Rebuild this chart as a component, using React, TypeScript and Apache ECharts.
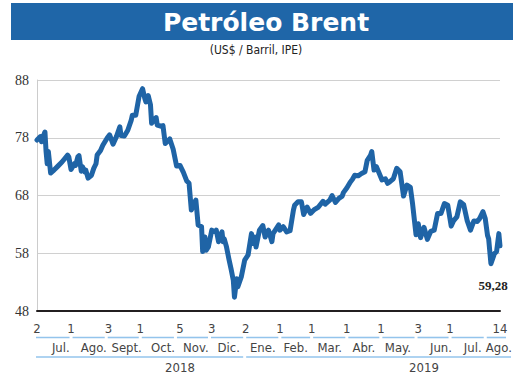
import React, { useEffect, useRef } from "react";
import * as echarts from "echarts";

const priceDates = [
  "2018-07-02","2018-07-05","2018-07-06","2018-07-08","2018-07-09","2018-07-10","2018-07-11","2018-07-12","2018-07-14","2018-07-17","2018-07-20","2018-07-24","2018-07-29","2018-07-30",
  "2018-08-01","2018-08-04","2018-08-05","2018-08-07","2018-08-08","2018-08-10","2018-08-11","2018-08-13","2018-08-14","2018-08-16","2018-08-19","2018-08-21","2018-08-23","2018-08-24","2018-08-27","2018-08-29",
  "2018-09-02","2018-09-04","2018-09-07","2018-09-10","2018-09-13","2018-09-14","2018-09-17","2018-09-20","2018-09-23","2018-09-24","2018-09-27","2018-09-30",
  "2018-10-03","2018-10-05","2018-10-06","2018-10-08","2018-10-10","2018-10-11","2018-10-15","2018-10-16","2018-10-19","2018-10-21","2018-10-23","2018-10-27","2018-10-30",
  "2018-11-02","2018-11-05","2018-11-08","2018-11-11","2018-11-13","2018-11-15","2018-11-18","2018-11-19","2018-11-21","2018-11-24","2018-11-25","2018-11-27","2018-11-28","2018-11-30",
  "2018-12-03","2018-12-06","2018-12-07","2018-12-09","2018-12-12","2018-12-13","2018-12-14","2018-12-16","2018-12-18","2018-12-20","2018-12-22","2018-12-23","2018-12-25","2018-12-26","2018-12-29",
  "2019-01-01","2019-01-04","2019-01-07","2019-01-08","2019-01-10","2019-01-11","2019-01-14","2019-01-17","2019-01-19","2019-01-22","2019-01-25","2019-01-26","2019-01-31",
  "2019-02-01","2019-02-04","2019-02-07","2019-02-10","2019-02-13","2019-02-14","2019-02-17","2019-02-20","2019-02-22","2019-02-25","2019-02-28",
  "2019-03-03","2019-03-07","2019-03-11","2019-03-13","2019-03-17","2019-03-19","2019-03-22","2019-03-25","2019-03-28","2019-03-29",
  "2019-04-01","2019-04-04","2019-04-06","2019-04-08","2019-04-11","2019-04-14","2019-04-17","2019-04-19","2019-04-22","2019-04-23","2019-04-25","2019-04-27","2019-04-29",
  "2019-05-02","2019-05-05","2019-05-07","2019-05-09","2019-05-12","2019-05-15","2019-05-18","2019-05-21","2019-05-24","2019-05-27","2019-05-29",
  "2019-06-01","2019-06-03","2019-06-05","2019-06-08","2019-06-11","2019-06-14","2019-06-17","2019-06-20","2019-06-23","2019-06-26","2019-06-29",
  "2019-07-02","2019-07-04","2019-07-07","2019-07-10","2019-07-13","2019-07-16","2019-07-19","2019-07-22","2019-07-25","2019-07-27","2019-07-30",
  "2019-08-01","2019-08-03","2019-08-04","2019-08-06","2019-08-09","2019-08-11","2019-08-13","2019-08-14",
];

const priceValues = [
  77.6, 78.2, 77.3, 78.5, 79.0, 75.6, 73.5, 75.6, 71.9, 72.4, 73.0, 73.8, 75.0, 74.7,
  72.5, 73.5, 73.2, 74.7, 74.9, 72.2, 73.0, 72.1, 72.4, 71.0, 71.5, 72.7, 73.5, 75.0, 75.8, 76.7,
  78.0, 78.5, 76.9, 78.2, 79.9, 78.4, 78.3, 79.3, 81.0, 81.9, 81.9, 85.2,
  86.5, 84.8, 84.2, 85.3, 83.7, 80.5, 81.5, 80.2, 80.0, 80.1, 77.0, 77.8, 76.0,
  73.1, 73.2, 72.0, 70.5, 70.1, 65.5, 66.9, 67.2, 62.9, 62.6, 58.3, 60.8, 58.5, 59.1,
  62.0, 61.7, 62.0, 60.0, 61.7, 60.0, 60.5, 59.1, 57.1, 55.3, 53.3, 50.4, 53.6, 52.2, 53.9,
  56.8, 57.7, 61.4, 59.7, 60.8, 59.1, 62.0, 62.8, 60.8, 62.0, 60.0, 61.4, 62.9,
  62.0, 62.6, 61.7, 61.9, 65.5, 66.3, 66.9, 66.9, 64.7, 66.0, 64.9,
  65.5, 66.0, 67.0, 66.5, 67.2, 68.0, 66.8, 67.5, 67.9, 68.5,
  69.3, 70.3, 70.8, 71.5, 71.4, 71.8, 72.1, 74.1, 75.0, 75.6, 72.4, 73.0, 72.1,
  70.7, 70.9, 70.1, 70.4, 70.9, 72.7, 72.1, 67.9, 69.8, 69.4, 66.5,
  61.2, 63.1, 60.7, 62.5, 60.4, 61.8, 62.0, 64.9, 64.9, 66.6, 66.3,
  62.7, 63.6, 64.3, 66.9, 66.4, 63.7, 62.0, 63.6, 63.5, 64.0, 65.2,
  64.0, 61.1, 60.5, 56.2, 57.9, 58.3, 61.4, 59.28,
];

const yTicks = [48, 58, 68, 78, 88];

const tickDates = [
  "2018-07-02","2018-08-01","2018-09-03","2018-10-01","2018-11-05","2018-12-03",
  "2019-01-02","2019-02-01","2019-03-01","2019-04-01","2019-05-01","2019-06-03","2019-07-01","2019-08-14",
];
const tickLabels = ["2","1","3","1","5","3","2","1","1","1","1","3","1","14"];

const monthLabels = ["Jul.","Ago.","Sept.","Oct.","Nov.","Dic.","Ene.","Feb.","Mar.","Abr.","May.","Jun.","Jul.","Ago."];
const monthLabelDates = [
  "2018-07-23","2018-08-21","2018-09-19","2018-10-21","2018-11-19","2018-12-18",
  "2019-01-17","2019-02-15","2019-03-17","2019-04-16","2019-05-16","2019-06-23","2019-07-21","2019-08-13",
];
const monthBounds = [
  "2018-07-02","2018-08-01","2018-09-01","2018-10-01","2018-11-01","2018-12-01","2019-01-01",
  "2019-02-01","2019-03-01","2019-04-01","2019-05-01","2019-06-01","2019-07-01","2019-08-01","2019-08-14",
];

const yearLabels = ["2018", "2019"];
const yearLabelDates = ["2018-11-05", "2019-06-08"];
const yearBounds = ["2018-07-02", "2019-01-01", "2019-08-14"];

const TITLE = "Petróleo Brent";
const SUBTITLE = "(US$ / Barril, IPE)";

const ts = (s: string) => {
  const [y, m, d] = s.split("-").map(Number);
  return Date.UTC(y, m - 1, d);
};

const SERIF = "'Liberation Serif', 'DejaVu Serif', serif";
const NARROW = "'Liberation Sans Narrow', 'DejaVu Sans Condensed', Roboto, sans-serif";
const BLUE = "#1f64a6";
const LIGHT = "#93c4ec";

export default function App() {
  const ref = useRef<HTMLDivElement>(null);

  useEffect(() => {
    if (!ref.current) return;
    const chart = echarts.init(ref.current, null, { renderer: "svg" });

    const tickMap = new Map<number, string>();
    tickDates.forEach((d, i) => tickMap.set(ts(d), tickLabels[i]));
    const monthMap = new Map<number, string>();
    monthLabelDates.forEach((d, i) => monthMap.set(ts(d), monthLabels[i]));
    const yearMap = new Map<number, string>();
    yearLabelDates.forEach((d, i) => yearMap.set(ts(d), yearLabels[i]));

    const xMin = ts(priceDates[0]);
    const xMax = ts(priceDates[priceDates.length - 1]);
    const last = priceValues.length - 1;

    const baseX = {
      type: "value" as const,
      min: xMin,
      max: xMax,
      position: "bottom" as const,
      axisTick: { show: false },
      splitLine: { show: false },
    };

    chart.setOption({
      animation: false,
      backgroundColor: "#ffffff",
      grid: { left: 37, right: 20, top: 80, bottom: 79 },
      xAxis: [
        {
          ...baseX,
          axisLine: { show: true, lineStyle: { color: "#231f20", width: 2 } },
          axisLabel: {
            customValues: tickDates.map(ts),
            formatter: (v: number) => tickMap.get(v) ?? "",
            margin: 11,
            fontFamily: NARROW,
            fontSize: 13,
            color: "#444",
          },
        },
        {
          ...baseX,
          axisLine: { show: false },
          axisLabel: {
            customValues: monthLabelDates.map(ts),
            formatter: (v: number) => monthMap.get(v) ?? "",
            margin: 30,
            fontFamily: NARROW,
            fontSize: 13,
            color: "#444",
          },
        },
        {
          ...baseX,
          axisLine: { show: false },
          axisLabel: {
            customValues: yearLabelDates.map(ts),
            formatter: (v: number) => yearMap.get(v) ?? "",
            margin: 50,
            fontFamily: NARROW,
            fontSize: 13,
            color: "#444",
          },
        },
      ],
      yAxis: {
        type: "value",
        min: yTicks[0],
        max: yTicks[yTicks.length - 1],
        interval: 10,
        axisLine: { show: true, lineStyle: { color: "#cccccc", width: 1 } },
        axisTick: { show: false },
        splitLine: { show: true, lineStyle: { color: "#d0d0d0", width: 1 } },
        axisLabel: { fontFamily: SERIF, fontSize: 14, color: "#333", margin: 8 },
      },
      series: [
        {
          type: "line",
          xAxisIndex: 0,
          data: priceDates.map((d, i) => [ts(d), priceValues[i]]),
          showSymbol: false,
          lineStyle: { color: BLUE, width: 5, join: "round", cap: "round" },
          itemStyle: { color: BLUE },
          markPoint: {
            symbol: "circle",
            symbolSize: 0,
            data: [
              {
                coord: [ts(priceDates[last]), priceValues[last]],
                value: priceValues[last],
                label: {
                  show: true,
                  position: "bottom",
                  distance: 33,
                  offset: [-7, 0],
                  formatter: priceValues[last].toFixed(2).replace(".", ","),
                  fontFamily: SERIF,
                  fontWeight: "bold",
                  fontSize: 13,
                  color: "#222",
                },
              },
            ],
          },
        },
      ],
    });

    const px = (s: string) => chart.convertToPixel({ xAxisIndex: 0 }, ts(s)) as number;

    const graphics: any[] = [
      { type: "rect", shape: { x: 11, y: 3, width: 502, height: 37 }, style: { fill: "#1f66a8" } },
      {
        type: "text",
        x: 266,
        y: 22,
        style: {
          text: TITLE,
          fill: "#ffffff",
          fontSize: 25,
          fontWeight: "bold",
          fontFamily: "'DejaVu Sans', sans-serif",
          align: "center",
          verticalAlign: "middle",
        },
      },
      {
        type: "text",
        x: 256,
        y: 50,
        style: {
          text: SUBTITLE,
          fill: "#222",
          fontSize: 12,
          fontFamily: NARROW,
          align: "center",
          verticalAlign: "middle",
        },
      },
    ];

    for (let i = 0; i < monthBounds.length - 1; i++) {
      const a = px(monthBounds[i]);
      const b = px(monthBounds[i + 1]);
      const x1 = i === 0 ? a - 1 : a + 1.5;
      const x2 = i === monthBounds.length - 2 ? b + 6 : b - 1.5;
      graphics.push({
        type: "line",
        shape: { x1, y1: 337.5, x2, y2: 337.5 },
        style: { stroke: LIGHT, lineWidth: 1.6 },
      });
    }
    for (let i = 0; i < yearBounds.length - 1; i++) {
      const a = px(yearBounds[i]);
      const b = px(yearBounds[i + 1]);
      const x1 = i === 0 ? a - 1 : a + 1.5;
      const x2 = i === yearBounds.length - 2 ? b + 11 : b - 1.5;
      graphics.push({
        type: "line",
        shape: { x1, y1: 357, x2, y2: 357 },
        style: { stroke: LIGHT, lineWidth: 1.6 },
      });
    }

    chart.setOption({ graphic: graphics });

    return () => chart.dispose();
  }, []);

  return (
    <div
      ref={ref}
      style={{ position: "absolute", left: 0, top: 0, width: 520, height: 390, background: "#fff" }}
    />
  );
}
